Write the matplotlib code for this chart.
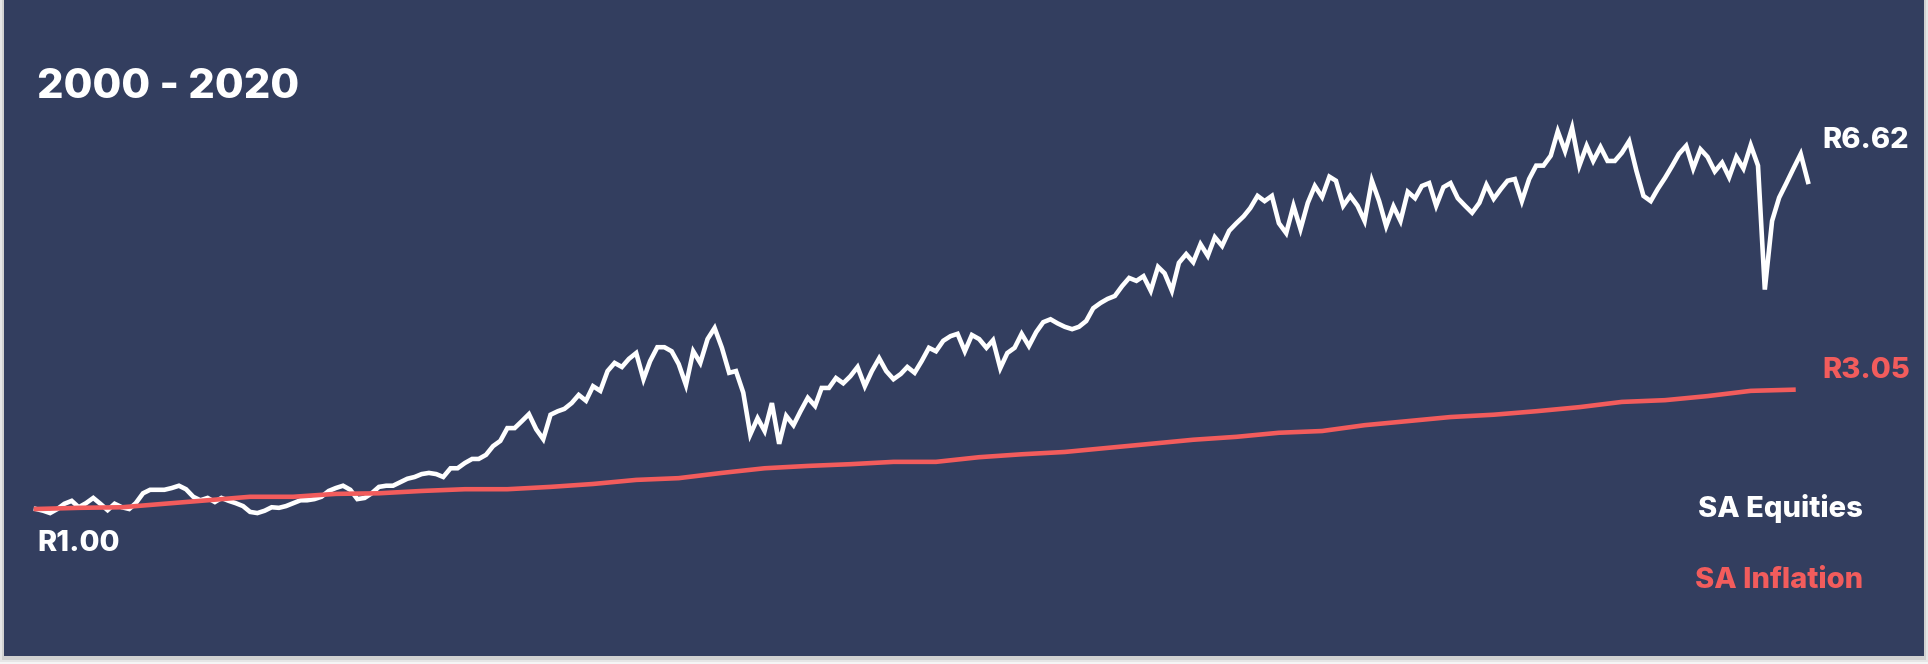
import matplotlib
matplotlib.use("Agg")
import matplotlib.pyplot as plt
import matplotlib.dates as mdates
from matplotlib.patches import Rectangle
import pandas as pd

TITLE = "2000 - 2020"
SERIES_NAMES = ["SA Equities", "SA Inflation"]
START_VALUE = 1.00

# growth of R1, monthly from Jan 2000
equities = [
    1.00, 0.97, 0.93, 1.00, 1.09, 1.14, 1.03, 1.10, 1.19, 1.09,
    0.98, 1.09, 1.03, 1.00, 1.10, 1.27, 1.33, 1.33, 1.33, 1.36,
    1.40, 1.34, 1.21, 1.15, 1.19, 1.12, 1.19, 1.14, 1.10, 1.05,
    0.95, 0.93, 0.97, 1.03, 1.02, 1.05, 1.10, 1.15, 1.15, 1.17,
    1.21, 1.31, 1.36, 1.40, 1.33, 1.17, 1.19, 1.27, 1.38, 1.40,
    1.40, 1.46, 1.52, 1.55, 1.60, 1.62, 1.60, 1.55, 1.70, 1.70,
    1.79, 1.86, 1.86, 1.93, 2.08, 2.17, 2.39, 2.39, 2.51, 2.63,
    2.37, 2.20, 2.62, 2.68, 2.72, 2.82, 2.96, 2.86, 3.11, 3.03,
    3.37, 3.51, 3.44, 3.58, 3.68, 3.23, 3.54, 3.78, 3.78, 3.71,
    3.49, 3.13, 3.71, 3.51, 3.92, 4.11, 3.77, 3.34, 3.37, 3.00,
    2.28, 2.56, 2.34, 2.82, 2.12, 2.60, 2.44, 2.68, 2.91, 2.77,
    3.08, 3.08, 3.25, 3.16, 3.28, 3.44, 3.11, 3.37, 3.59, 3.37,
    3.23, 3.32, 3.44, 3.34, 3.54, 3.77, 3.71, 3.89, 3.97, 4.01,
    3.71, 3.99, 3.92, 3.77, 3.90, 3.42, 3.68, 3.77, 4.01, 3.80,
    4.04, 4.21, 4.26, 4.19, 4.13, 4.09, 4.13, 4.23, 4.45, 4.54,
    4.61, 4.66, 4.83, 4.97, 4.92, 5.00, 4.75, 5.16, 5.05, 4.75,
    5.23, 5.38, 5.24, 5.55, 5.35, 5.67, 5.52, 5.78, 5.91, 6.03,
    6.17, 6.38, 6.29, 6.38, 5.91, 5.74, 6.21, 5.81, 6.26, 6.55,
    6.36, 6.71, 6.64, 6.21, 6.38, 6.21, 5.95, 6.64, 6.29, 5.86,
    6.20, 5.95, 6.45, 6.34, 6.55, 6.60, 6.21, 6.53, 6.60, 6.34,
    6.21, 6.09, 6.26, 6.57, 6.33, 6.50, 6.64, 6.67, 6.29, 6.67,
    6.90, 6.90, 7.07, 7.49, 7.15, 7.55, 6.90, 7.24, 6.98, 7.22,
    6.98, 6.98, 7.12, 7.32, 6.81, 6.38, 6.29, 6.50, 6.69, 6.90,
    7.10, 7.24, 6.85, 7.18, 7.05, 6.80, 6.95, 6.70, 7.05, 6.85,
    7.25, 6.90, 4.77, 5.95, 6.35, 6.60, 6.85, 7.10, 6.62,
]

# growth of R1, every six months from Jan 2000
inflation = [
    1.00, 1.02, 1.03, 1.09, 1.15, 1.21, 1.21, 1.26, 1.27, 1.31,
    1.34, 1.34, 1.38, 1.43, 1.50, 1.53, 1.62, 1.70, 1.74, 1.77,
    1.81, 1.81, 1.89, 1.94, 1.98, 2.05, 2.12, 2.19, 2.24, 2.31,
    2.34, 2.44, 2.51, 2.58, 2.62, 2.68, 2.75, 2.84, 2.87, 2.94,
    3.03, 3.05,
]

equity_dates = pd.date_range("2000-01-01", periods=len(equities), freq="MS")
inflation_dates = pd.date_range("2000-01-01", periods=len(inflation), freq="6MS")

NAVY = "#333e5f"
RED = "#f25c5c"
FONT = ["Inter", "DejaVu Sans"]
W, H = 1928, 664

fig = plt.figure(figsize=(W / 100, H / 100), dpi=100, facecolor="white")

# card with a soft shadow
for grow, alpha in [(6, 0.04), (4, 0.06), (2, 0.09)]:
    fig.patches.append(Rectangle(((4 - grow) / W, (8 - grow - 2) / H),
                                 (1920 + 2 * grow) / W, (660 + 2 * grow) / H,
                                 transform=fig.transFigure, facecolor="black",
                                 edgecolor="none", alpha=alpha, zorder=0))
fig.patches.append(Rectangle((4 / W, 8 / H), 1920 / W, 660 / H,
                             transform=fig.transFigure, facecolor=NAVY,
                             edgecolor="none", zorder=1))

ax = fig.add_axes([0, 0, 1, 1])
ax.set_zorder(2)
ax.patch.set_alpha(0)
ax.axis("off")

ax.plot(equity_dates, equities, color="white", lw=3.3, solid_joinstyle="miter", zorder=3)
ax.plot(inflation_dates, inflation, color=RED, lw=3.3, zorder=4)

# map the data so that it sits where it does in the card
d0 = mdates.date2num(equity_dates[0])
d1 = mdates.date2num(equity_dates[-1])
px_per_day = (1808 - 36) / (d1 - d0)
ax.set_xlim(d0 - 36 / px_per_day, d0 + (W - 36) / px_per_day)
px_per_unit = 58.2
ax.set_ylim(START_VALUE - (H - 509) / px_per_unit, START_VALUE + 509 / px_per_unit)


def put(x, y, s, size, color="white", ha="left"):
    fig.text(x / W, 1 - y / H, s, fontsize=size, color=color, ha=ha,
             va="baseline", weight=800, family=FONT, zorder=5)


put(37, 98, TITLE, 30)
put(37, 551, f"R{START_VALUE:.2f}", 21)
put(1822, 148, f"R{equities[-1]:.2f}", 21)
put(1822, 378, f"R{inflation[-1]:.2f}", 21, RED)
put(1863, 517, SERIES_NAMES[0], 21, ha="right")
put(1863, 588, SERIES_NAMES[1], 21, RED, ha="right")

fig.savefig("out.png", dpi=100, facecolor="white")
